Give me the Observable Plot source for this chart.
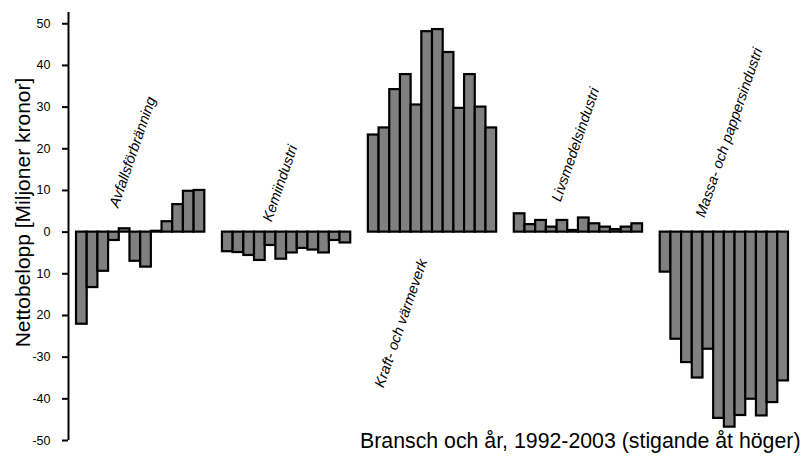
<!DOCTYPE html>
<html>
<head>
<meta charset="utf-8">
<script src="https://cdn.jsdelivr.net/npm/d3@7"></script>
<script src="https://cdn.jsdelivr.net/npm/@observablehq/plot@0.6"></script>
<style>
  html, body { margin: 0; padding: 0; background: #fff; }
  #chart svg { display: block; }
</style>
</head>
<body>
<div id="chart"></div>
<script>
// ---- Data ----
const branscher = ["Avfallsförbränning", "Kemiindustri", "Kraft- och värmeverk", "Livsmedelsindustri", "Massa- och pappersindustri"];
const years = [1992, 1993, 1994, 1995, 1996, 1997, 1998, 1999, 2000, 2001, 2002, 2003];
const avfall = [-22.1, -13.3, -9.4, -2.0, 0.8, -7.0, -8.4, 0.2, 2.5, 6.6, 9.8, 10.0];
const kemi   = [-4.7, -4.9, -5.6, -6.8, -3.2, -6.5, -5.0, -3.9, -4.3, -5.0, -2.0, -2.6];
const kraft  = [23.3, 25.0, 34.2, 37.8, 30.5, 48.1, 48.6, 43.1, 29.7, 37.8, 30.0, 25.0];
const livs   = [4.4, 1.8, 2.8, 1.2, 2.8, 0.4, 3.4, 2.0, 1.2, 0.6, 1.2, 2.0];
const massa  = [-9.6, -25.7, -31.3, -35.0, -28.1, -44.7, -46.8, -44.0, -40.1, -44.1, -40.9, -35.7];
const tickValues = [50, 40, 30, 20, 10, 0, -10, -20, -30, -40, -50];
const tickLabels = ["50", "40", "30", "20", "10", "0", "10", "20", "-30", "-40", "-50"];
const yTitle = "Nettobelopp [Miljoner kronor]";
const xTitle = "Bransch och år, 1992-2003 (stigande åt höger)";

// ---- Layout (annotation anchors in data units: year slot within group, value) ----
const series = [avfall, kemi, kraft, livs, massa];
const groupStep = 13.65;
const labelAnchors = [
  {slot: 3.9, value: 5.7},
  {slot: 4.59, value: 2.3},
  {slot: 1.42, value: -37.5},
  {slot: 4.33, value: 7.1},
  {slot: 4.15, value: 3.3}
];

const rows = branscher.flatMap((b, g) => series[g].map((v, i) => ({
  bransch: b, year: years[i], value: v,
  x1: g * groupStep + i, x2: g * groupStep + i + 1
})));
const labels = branscher.map((b, g) => ({
  text: b, x: g * groupStep + labelAnchors[g].slot, y: labelAnchors[g].value
}));
const xMax = (branscher.length - 1) * groupStep + years.length;
const xMin = -0.75;
const tickLabel = new Map(tickValues.map((t, i) => [t, tickLabels[i]]));

const font = "'Liberation Sans', Arial, Helvetica, sans-serif";

const chart = Plot.plot({
  width: 803,
  height: 462,
  marginLeft: 68,
  marginRight: 15,
  marginTop: 12,
  marginBottom: 22,
  style: {fontFamily: font, background: "#fff", color: "#000", overflow: "visible"},
  x: {domain: [xMin, xMax], axis: null},
  y: {domain: [-50, 52.7]},
  marks: [
    Plot.rectY(rows, {x1: "x1", x2: "x2", y1: 0, y2: "value", fill: "#808080", stroke: "#000", strokeWidth: 2.2}),
    Plot.ruleX([xMin], {stroke: "#000", strokeWidth: 2}),
    Plot.axisY({
      ticks: tickValues,
      tickFormat: d => tickLabel.get(d),
      tickSize: 6,
      tickPadding: 12,
      strokeWidth: 2,
      fontSize: 12.5,
      fill: "#000",
      label: null
    }),
    Plot.text(labels, {
      x: "x", y: "y", text: "text", rotate: -71,
      textAnchor: "start", lineAnchor: "bottom",
      fontStyle: "italic", fontSize: 14.5, fill: "#000"
    }),
    Plot.text([yTitle], {
      frameAnchor: "left", rotate: -90, dx: -45, dy: -14,
      fontSize: 21, textAnchor: "middle", fill: "#000"
    }),
    Plot.text([xTitle], {
      frameAnchor: "bottom-right", textAnchor: "end", dx: 12, dy: 7,
      fontSize: 21.3, fill: "#000"
    })
  ]
});
document.getElementById("chart").appendChild(chart);
</script>
</body>
</html>
